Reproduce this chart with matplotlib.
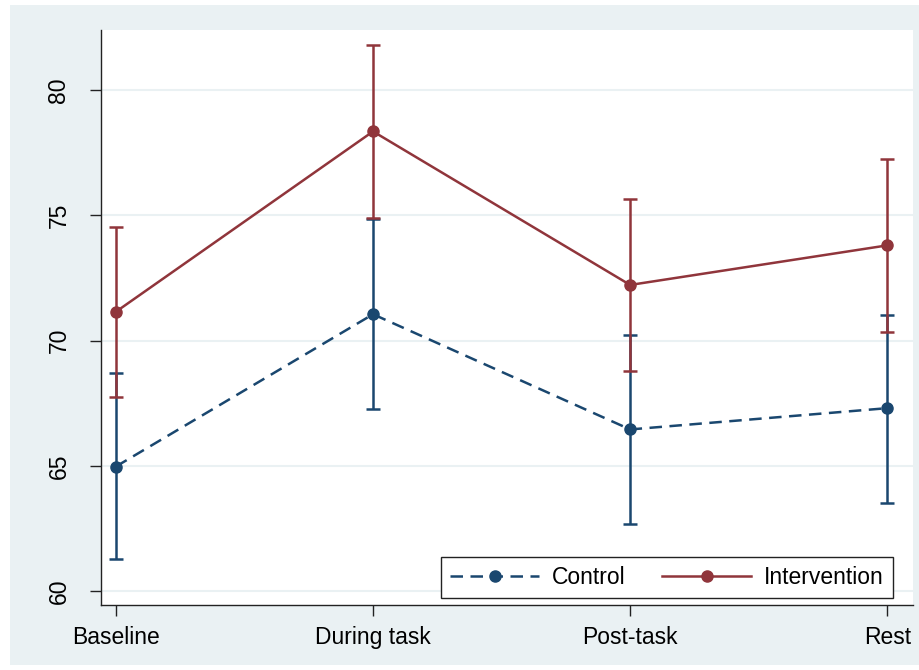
import matplotlib.pyplot as plt
from matplotlib.patches import Rectangle

plt.rcParams["font.family"] = ["Liberation Sans", "DejaVu Sans"]

phases = ["Baseline", "During task", "Post-task", "Rest"]

control_mean = [64.97, 71.05, 66.45, 67.30]
control_lo = [61.27, 67.25, 62.68, 63.50]
control_hi = [68.70, 74.85, 70.23, 71.02]

interv_mean = [71.15, 78.35, 72.22, 73.80]
interv_lo = [67.73, 74.88, 68.77, 70.34]
interv_hi = [74.55, 81.80, 75.65, 77.25]

navy = "#1a476f"
maroon = "#90353b"
bg = "#eaf1f3"

fig = plt.figure(figsize=(9.2, 6.7), dpi=100, facecolor="white")
# Stata-style light background panel
fig.patches.append(Rectangle((10 / 920, 5 / 670), 910 / 920, 660 / 670,
                             transform=fig.transFigure, facecolor=bg,
                             edgecolor="none", zorder=-10))

ax = fig.add_axes([101 / 920, 1 - 605 / 670, 812 / 920, 575 / 670])
ax.set_facecolor("white")

x = list(range(len(phases)))

def draw(mean, lo, hi, color, ls, label):
    yerr = [[m - l for m, l in zip(mean, lo)], [h - m for m, h in zip(mean, hi)]]
    ax.errorbar(x, mean, yerr=yerr, fmt="none", ecolor=color, elinewidth=1.8,
                capsize=5, capthick=1.8, zorder=3)
    ax.plot(x, mean, color=color, linestyle=ls, linewidth=1.8, marker="o",
            markersize=8, label=label, zorder=4)

draw(control_mean, control_lo, control_hi, navy, (0, (5, 3)), "Control")
draw(interv_mean, interv_lo, interv_hi, maroon, "-", "Intervention")

ax.set_xlim(-0.058, 3.10)
ax.set_ylim(59.44, 82.4)
ax.set_yticks([60, 65, 70, 75, 80])
ax.set_xticks(x)
ax.set_xticklabels(phases)
ax.grid(axis="y", color=bg, linewidth=1.5, zorder=0)
ax.set_axisbelow(True)

for s in ["top", "right"]:
    ax.spines[s].set_visible(False)
for s in ["left", "bottom"]:
    ax.spines[s].set_color("#222222")
    ax.spines[s].set_linewidth(1.0)

ax.tick_params(axis="both", direction="out", length=8, width=1.0,
               color="#222222", labelsize=16.5)
ax.tick_params(axis="x", pad=7)
ax.tick_params(axis="y", pad=14)
for lab in ax.get_yticklabels():
    lab.set_rotation(90)
    lab.set_va("center")

# legend box: ~442..893 px wide, bottom ~7 px above the x axis
leg = ax.legend(loc="lower right", ncol=2, fontsize=16.5, frameon=True,
                fancybox=False, edgecolor="#222222", framealpha=1,
                handlelength=3.9, columnspacing=1.6, handletextpad=0.55,
                borderpad=0.4, borderaxespad=0,
                bbox_to_anchor=(893 / 920, 1 - 598 / 670),
                bbox_transform=fig.transFigure)
leg.get_frame().set_linewidth(1.0)

fig.savefig("out.png", dpi=100, facecolor="white")
